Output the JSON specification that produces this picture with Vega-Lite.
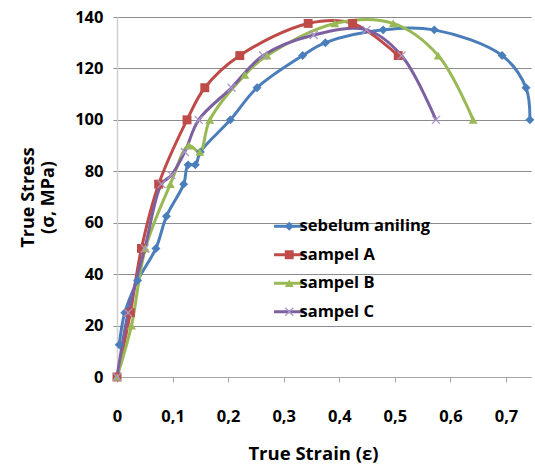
{
  "$schema": "https://vega.github.io/schema/vega-lite/v6.json",
  "width": 414,
  "height": 360,
  "autosize": "none",
  "padding": {"left": 117, "top": 17, "right": 4, "bottom": 87},
  "background": "white",
  "config": {"view": {"stroke": null}, "font": "Open Sans"},
  "data": {
    "values": [
      {"series": "sebelum aniling", "strain": 0.004, "stress": 12.5},
      {"series": "sebelum aniling", "strain": 0.014, "stress": 25},
      {"series": "sebelum aniling", "strain": 0.037, "stress": 37.5},
      {"series": "sebelum aniling", "strain": 0.07, "stress": 50},
      {"series": "sebelum aniling", "strain": 0.089, "stress": 62.5},
      {"series": "sebelum aniling", "strain": 0.12, "stress": 75},
      {"series": "sebelum aniling", "strain": 0.128, "stress": 82.5},
      {"series": "sebelum aniling", "strain": 0.141, "stress": 82.5},
      {"series": "sebelum aniling", "strain": 0.15, "stress": 87.5},
      {"series": "sebelum aniling", "strain": 0.204, "stress": 100},
      {"series": "sebelum aniling", "strain": 0.252, "stress": 112.5},
      {"series": "sebelum aniling", "strain": 0.334, "stress": 125},
      {"series": "sebelum aniling", "strain": 0.375, "stress": 130},
      {"series": "sebelum aniling", "strain": 0.479, "stress": 135},
      {"series": "sebelum aniling", "strain": 0.571, "stress": 135},
      {"series": "sebelum aniling", "strain": 0.693, "stress": 125},
      {"series": "sebelum aniling", "strain": 0.736, "stress": 112.5},
      {"series": "sebelum aniling", "strain": 0.743, "stress": 100},
      {"series": "sampel A", "strain": 0, "stress": 0},
      {"series": "sampel A", "strain": 0.024, "stress": 25},
      {"series": "sampel A", "strain": 0.044, "stress": 50},
      {"series": "sampel A", "strain": 0.075, "stress": 75},
      {"series": "sampel A", "strain": 0.126, "stress": 100},
      {"series": "sampel A", "strain": 0.158, "stress": 112.5},
      {"series": "sampel A", "strain": 0.221, "stress": 125},
      {"series": "sampel A", "strain": 0.344, "stress": 137.5},
      {"series": "sampel A", "strain": 0.424, "stress": 137.5},
      {"series": "sampel A", "strain": 0.506, "stress": 125},
      {"series": "sampel B", "strain": 0, "stress": 0},
      {"series": "sampel B", "strain": 0.026, "stress": 20},
      {"series": "sampel B", "strain": 0.051, "stress": 50},
      {"series": "sampel B", "strain": 0.096, "stress": 75},
      {"series": "sampel B", "strain": 0.129, "stress": 90},
      {"series": "sampel B", "strain": 0.149, "stress": 87.5},
      {"series": "sampel B", "strain": 0.167, "stress": 100},
      {"series": "sampel B", "strain": 0.23, "stress": 117.5},
      {"series": "sampel B", "strain": 0.27, "stress": 125},
      {"series": "sampel B", "strain": 0.392, "stress": 137.5},
      {"series": "sampel B", "strain": 0.497, "stress": 137.5},
      {"series": "sampel B", "strain": 0.578, "stress": 125},
      {"series": "sampel B", "strain": 0.641, "stress": 100},
      {"series": "sampel C", "strain": 0, "stress": 0},
      {"series": "sampel C", "strain": 0.02, "stress": 25},
      {"series": "sampel C", "strain": 0.05, "stress": 50},
      {"series": "sampel C", "strain": 0.08, "stress": 75},
      {"series": "sampel C", "strain": 0.098, "stress": 78.5},
      {"series": "sampel C", "strain": 0.122, "stress": 87.5},
      {"series": "sampel C", "strain": 0.147, "stress": 100},
      {"series": "sampel C", "strain": 0.206, "stress": 112.5},
      {"series": "sampel C", "strain": 0.263, "stress": 125},
      {"series": "sampel C", "strain": 0.354, "stress": 133},
      {"series": "sampel C", "strain": 0.449, "stress": 135},
      {"series": "sampel C", "strain": 0.512, "stress": 125},
      {"series": "sampel C", "strain": 0.574, "stress": 100}
    ]
  },
  "encoding": {
    "x": {
      "field": "strain",
      "type": "quantitative",
      "scale": {"domain": [0, 0.745], "nice": false, "zero": false},
      "axis": {
        "values": [0, 0.1, 0.2, 0.3, 0.4, 0.5, 0.6, 0.7],
        "labelExpr": "replace(format(datum.value, '.1~f'), '.', ',')",
        "grid": false,
        "domainColor": "#a6a6a6",
        "domainWidth": 1,
        "tickColor": "#a6a6a6",
        "tickSize": 5,
        "labelPadding": 26,
        "labelFlush": false,
        "labelFont": "Open Sans",
        "labelFontWeight": "bold",
        "labelFontSize": 16.5,
        "labelColor": "black",
        "title": "True Strain (ε)",
        "titleFont": "Open Sans",
        "titleFontSize": 18.5,
        "titleFontWeight": "bold",
        "titleColor": "black",
        "titlePadding": 20,
        "titleX": 196
      }
    },
    "y": {
      "field": "stress",
      "type": "quantitative",
      "scale": {"domain": [0, 140], "nice": false},
      "axis": {
        "values": [0, 20, 40, 60, 80, 100, 120, 140],
        "grid": true,
        "gridColor": "#8c8c8c",
        "gridWidth": 1,
        "domainColor": "#d0d0d0",
        "domainWidth": 1.5,
        "tickColor": "#8c8c8c",
        "tickSize": 4,
        "labelPadding": 10,
        "labelFont": "Open Sans",
        "labelFontWeight": "bold",
        "labelFontSize": 16.5,
        "labelColor": "black",
        "title": ["True Stress", "(σ, MPa)"],
        "titleFont": "Open Sans",
        "titleFontSize": 18,
        "titleFontWeight": "bold",
        "titleColor": "black",
        "titleLineHeight": 20,
        "titlePadding": 17
      }
    }
  },
  "layer": [
    {
      "mark": {"type": "line", "interpolate": "catmull-rom", "strokeWidth": 3, "clip": false},
      "encoding": {
        "stroke": {
          "field": "series",
          "type": "nominal",
          "scale": {
            "domain": ["sebelum aniling", "sampel A", "sampel B", "sampel C"],
            "range": ["#4a7ebb", "#be4b48", "#98b954", "#7d60a0"]
          },
          "legend": {
            "orient": "none",
            "legendX": 164,
            "legendY": 201,
            "title": null,
            "symbolType": "M-3.4,0L3.4,0",
            "symbolSize": 80,
            "symbolStrokeWidth": 3,
            "labelColor": "transparent",
            "labelFont": "Open Sans",
            "labelFontSize": 16.5,
            "labelFontWeight": "bold",
            "labelOffset": 2,
            "rowPadding": 11.5,
            "zindex": 1
          }
        }
      }
    },
    {
      "mark": {"type": "point", "filled": true, "size": 80, "strokeWidth": 0, "opacity": 1, "clip": false},
      "encoding": {
        "color": {
          "field": "series",
          "type": "nominal",
          "sort": ["sebelum aniling", "sampel A", "sampel B", "sampel C"],
          "scale": {"range": ["#4a7ebb", "#be4b48", "#98b954", "#a996c6"]},
          "legend": null
        },
        "shape": {
          "field": "series",
          "type": "nominal",
          "sort": ["sebelum aniling", "sampel A", "sampel B", "sampel C"],
          "scale": {"range": ["diamond", "square", "triangle-up", "M-1,-0.8L-0.8,-1L0,-0.2L0.8,-1L1,-0.8L0.2,0L1,0.8L0.8,1L0,0.2L-0.8,1L-1,0.8L-0.2,0Z"]},
          "legend": {
            "orient": "none",
            "legendX": 164,
            "legendY": 201,
            "title": null,
            "symbolSize": 80,
            "symbolStrokeWidth": 0,
            "symbolOpacity": 1,
            "symbolFillColor": {"expr": "datum.value === 'sebelum aniling' ? '#4a7ebb' : datum.value === 'sampel A' ? '#be4b48' : datum.value === 'sampel B' ? '#98b954' : '#a996c6'"},
            "labelColor": "black",
            "labelFont": "Open Sans",
            "labelFontSize": 16.5,
            "labelFontWeight": "bold",
            "labelOffset": 2,
            "rowPadding": 11.5,
            "zindex": 2
          }
        }
      }
    }
  ]
}
